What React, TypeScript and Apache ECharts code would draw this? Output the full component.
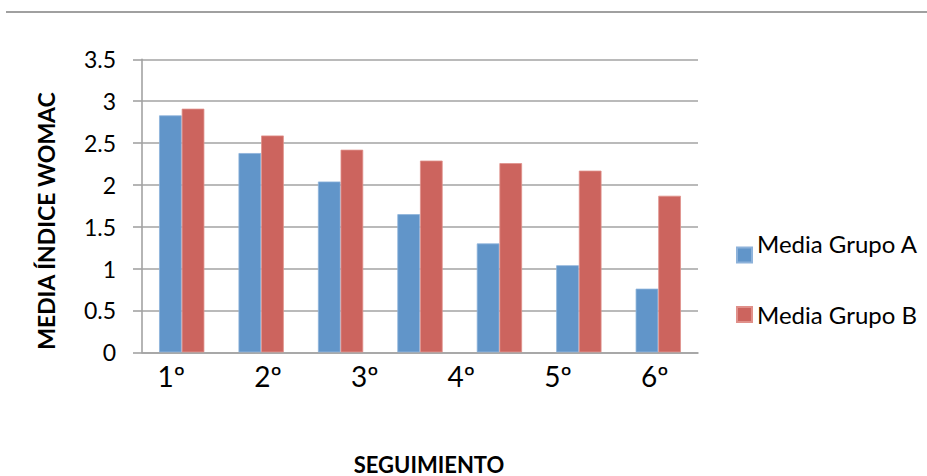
import React, { useEffect, useRef } from "react";
import * as echarts from "echarts";

const barCategories = ["1", "2", "3", "4", "5", "6", "7"];
const tickLabels = ["1º", "2º", "3º", "4º", "5º", "6º"];
const grupoA = [2.83, 2.38, 2.04, 1.65, 1.3, 1.04, 0.76];
const grupoB = [2.91, 2.59, 2.42, 2.29, 2.26, 2.17, 1.87];
const seriesNames = ["Media Grupo A", "Media Grupo B"];
const yTitle = "MEDIA ÍNDICE WOMAC";
const xTitle = "SEGUIMIENTO";

const FONT = "Lato";
const BLUE = "#6195C9";
const RED = "#CC645E";
const GRID = "#a3a3a3";

export default function App() {
  const ref = useRef<HTMLDivElement>(null);
  useEffect(() => {
    if (!ref.current) return;
    const chart = echarts.init(ref.current, null, { renderer: "svg" });
    chart.setOption({
      animation: false,
      backgroundColor: "#ffffff",
      textStyle: { fontFamily: FONT },
      grid: [
        { left: 142, right: 229, top: 59.3, bottom: 123.7 },
        { left: 123, right: 224, top: 59.3, bottom: 123.7 },
      ],
      xAxis: [
        {
          type: "category",
          gridIndex: 0,
          data: barCategories,
          axisLine: { show: true, lineStyle: { color: GRID, width: 1.6 } },
          axisTick: { show: false },
          axisLabel: { show: false },
          splitLine: { show: false },
        },
        {
          type: "category",
          gridIndex: 1,
          data: tickLabels,
          axisLine: { show: false },
          axisTick: { show: false },
          splitLine: { show: false },
          axisLabel: {
            show: true,
            margin: 10,
            fontFamily: FONT,
            fontSize: 28,
            color: "#000",
          },
        },
      ],
      yAxis: [
        {
          type: "value",
          gridIndex: 0,
          min: 0,
          max: 3.5,
          interval: 0.5,
          axisLine: { show: true, lineStyle: { color: GRID, width: 1.6 } },
          axisTick: { show: true, inside: false, length: 9, lineStyle: { color: GRID, width: 1.6 } },
          splitLine: { show: true, lineStyle: { color: GRID, width: 1.6 } },
          axisLabel: {
            margin: 26,
            fontFamily: FONT,
            fontSize: 23,
            color: "#000",
          },
        },
        {
          type: "value",
          gridIndex: 1,
          show: false,
        },
      ],
      legend: [
        {
          data: [seriesNames[0]],
          left: 736,
          top: 231,
          padding: 0,
          orient: "vertical",
          itemWidth: 15,
          itemHeight: 15,
          icon: "rect",
          formatter: "{a|{name}}",
          textStyle: {
            color: "#000",
            rich: {
              a: { fontFamily: FONT, fontSize: 24, color: "#000", lineHeight: 24, padding: [0, 0, 24, 0] },
            },
          },
        },
        {
          data: [seriesNames[1]],
          left: 736,
          top: 302.5,
          padding: 0,
          orient: "vertical",
          itemWidth: 15,
          itemHeight: 15,
          icon: "rect",
          formatter: "{a|{name}}",
          textStyle: {
            color: "#000",
            rich: {
              a: { fontFamily: FONT, fontSize: 24, color: "#000", lineHeight: 24 },
            },
          },
        },
      ],
      graphic: [
        {
          type: "line",
          shape: { x1: 6, y1: 12, x2: 927, y2: 12 },
          style: { stroke: "#a0a0a0", lineWidth: 2 },
        },
        {
          type: "text",
          x: 46,
          y: 221,
          rotation: Math.PI / 2,
          style: {
            text: yTitle,
            fontFamily: FONT,
            fontWeight: "bold",
            fontSize: 23,
            fill: "#000",
            align: "center",
            verticalAlign: "middle",
          },
        },
        {
          type: "text",
          x: 429,
          y: 464,
          style: {
            text: xTitle,
            fontFamily: FONT,
            fontWeight: "bold",
            fontSize: 22,
            lineHeight: 18,
            fill: "#000",
            align: "center",
            verticalAlign: "middle",
          },
        },
      ],
      series: [
        {
          name: seriesNames[0],
          type: "bar",
          xAxisIndex: 0,
          yAxisIndex: 0,
          data: grupoA,
          barGap: "0%",
          barCategoryGap: "43%",
          itemStyle: { color: BLUE, borderColor: "#8db2da", borderWidth: 0.8 },
        },
        {
          name: seriesNames[1],
          type: "bar",
          xAxisIndex: 0,
          yAxisIndex: 0,
          data: grupoB,
          barGap: "0%",
          barCategoryGap: "43%",
          itemStyle: { color: RED, borderColor: "#e0908a", borderWidth: 0.8 },
        },
      ],
    });
    return () => chart.dispose();
  }, []);
  return (
    <div
      ref={ref}
      style={{ position: "fixed", left: 0, top: 0, width: 927, height: 476 }}
    />
  );
}
